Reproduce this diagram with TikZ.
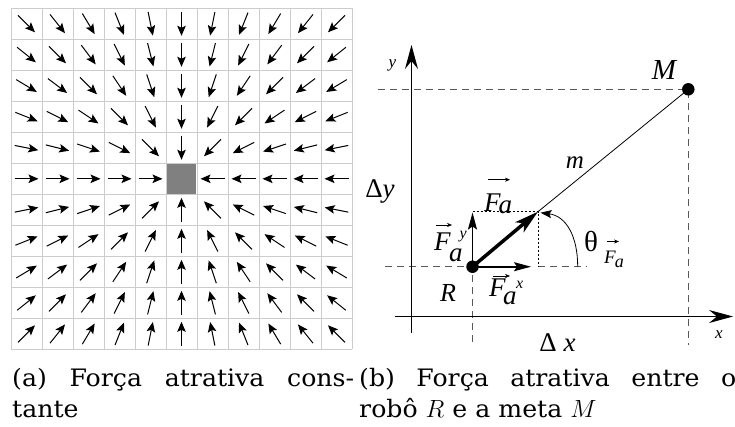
\documentclass[tikz,border=0pt]{standalone}
\usepackage{fontspec}
\setmainfont{Liberation Serif}
\newfontfamily\capfont[FakeStretch=1.05]{DejaVu Serif}
\usetikzlibrary{arrows.meta}
\newcommand\fsz[1]{\fontsize{#1}{#1}\selectfont}
% F with an a beside it and a superscript:
% #1 kern before a, #2 lowering of a, #3 kern before sup, #4 raise of sup, #5 sup
\newcommand\Fsub[5]{F\kern#1\raisebox{-#2}{a}\kern#3\raisebox{#4}{\fsz{16}#5}}
\begin{document}
\begin{tikzpicture}[x=1pt,y=-1pt,
  gridline/.style={draw=black!20,line width=0.9pt},
  fieldarrow/.style={line width=1pt,-{Stealth[length=10pt,width=8.5pt,inset=2pt]}},
  axisarrow/.style={line width=1pt,-{Stealth[length=24pt,width=13pt,inset=8pt]}},
  guide/.style={draw=black!65,line width=0.9pt,dash pattern=on 7pt off 5pt},
  dotline/.style={line width=0.7pt,dash pattern=on 2pt off 2pt},
  dotmark/.style={circle,fill=black,minimum size=12.5pt,inner sep=0pt},
  lab/.style={inner sep=0pt,font=\fsz{27}\itshape},
  vecarrow/.style={line width=0.5pt,-{Stealth[length=5pt,width=4pt]}},
  comparrow/.style={line width=1.8pt,-{Stealth[length=17pt,width=9pt,inset=3pt]}},
  bigarrow/.style={line width=3.5pt,-{Stealth[length=24pt,width=13pt,inset=6pt]}},
  captext/.style={inner sep=0pt,anchor=base west,font=\capfont\fsz{24}}]
\useasboundingbox (0,0) rectangle (735,426);
% ---------- (a) constant attractive field ----------
\foreach \i in {0,...,11}{
  \draw[gridline] (11+31*\i,8.3) -- (11+31*\i,349.3);
  \draw[gridline] (11,8.3+31*\i) -- (352,8.3+31*\i);
}
\node[fill=black!50,minimum size=29.5pt,inner sep=0pt] (goal) at (181.5,178.8) {};
\foreach \c in {0,...,10}{
  \foreach \r in {0,...,10}{
    \pgfmathtruncatemacro\isctr{(\c==5)&&(\r==5)}
    \ifnum\isctr=0
      \pgfmathsetmacro\fdx{5-\c}
      \pgfmathsetmacro\fdy{5-\r}
      \pgfmathsetmacro\vlen{sqrt(\fdx*\fdx+\fdy*\fdy)}
      \pgfmathsetmacro\ax{26.5+31*\c-12*\fdx/\vlen}
      \pgfmathsetmacro\ay{23.8+31*\r-12*\fdy/\vlen}
      \pgfmathsetmacro\bx{26.5+31*\c+12*\fdx/\vlen}
      \pgfmathsetmacro\by{23.8+31*\r+12*\fdy/\vlen}
      \draw[fieldarrow] (\ax,\ay) -- (\bx,\by);
    \fi
  }
}
% ---------- (b) force between robot R and goal M ----------
\coordinate (ybot) at (411.5,333);
\coordinate (ytop) at (411.5,45);
\coordinate (xleft) at (395,316.5);
\coordinate (xright) at (733,316.5);
\coordinate (Rpos) at (472.5,266.7);
\coordinate (Mpos) at (688.3,89.3);
\coordinate (P) at (538,211.7);
\coordinate (Py) at (472.5,211.7);
\coordinate (Pyt) at (472.5,212.5);
\coordinate (Px) at (538,266.7);
\coordinate (Pxt) at (531,266.7);
\coordinate (hMl) at (378,89.3);
\coordinate (vMb) at (688.3,345);
\coordinate (hRl) at (385,266.7);
\coordinate (hRr) at (587,266.7);
\coordinate (vRb) at (472.5,345);
\coordinate (T0) at (577.7,266.7);
\coordinate (T1) at (540.5,212.7);
% guides
\draw[guide] (hMl) -- (Mpos) -- (vMb);
\draw[guide] (hRl) -- (Rpos) -- (vRb);
\draw[guide] (Px) -- (hRr);
\draw[dotline] (Py) -- (P) -- (Px);
% axes
\draw[axisarrow] (ybot) -- (ytop);
\draw[axisarrow] (xleft) -- (xright);
% line m and vectors
\draw[line width=0.8pt] (P) -- (Mpos);
\draw[comparrow] (Rpos) -- (Pyt);
\draw[comparrow] (Rpos) -- (Pxt);
\draw[bigarrow] (Rpos) -- (P);
\draw[line width=0.8pt,-{Stealth[length=11pt,width=8pt,inset=2pt]}] (T0) .. controls (577.7,236) and (566,216) .. (T1);
\node[dotmark] (R) at (Rpos) {};
\node[dotmark] (M) at (Mpos) {};
% labels
\node[lab,font=\fsz{17}\itshape,anchor=base] (ylab) at (392.5,67) {y};
\node[lab,font=\fsz{17}\itshape,anchor=base] (xlab) at (719,338) {x};
\node[lab,font=\fsz{29}\itshape,anchor=base] (Mlab) at (664,79) {M};
\node[lab,font=\fsz{25}\itshape,anchor=base] (mlab) at (575,168) {m};
\node[lab,font=\fsz{26}\itshape,anchor=base] (Rlab) at (448,301) {R};
\node[lab,font=\fsz{27},anchor=base] (dylab) at (380,197) {Δ\textit{y}};
\node[lab,font=\fsz{27},anchor=base] (dxlab) at (557.5,351) {Δ \textit{x}};
\node[lab,font=\fsz{29},anchor=base] (thlab) at (591,251) {θ};
\node[lab,anchor=base west] (Fa) at (484,211.7) {\Fsub{-2pt}{1.5pt}{0pt}{0pt}{}};
\draw[vecarrow] ([xshift=4pt,yshift=32pt]Fa.base west) -- ++(22,0);
\node[lab,anchor=base west] (Fay) at (434,250) {\Fsub{-1.5pt}{11pt}{-3pt}{12pt}{y}};
\draw[vecarrow] ([xshift=2pt,yshift=25pt]Fay.base west) -- ++(16,0);
\node[lab,anchor=base west] (Fax) at (489,296) {\Fsub{-2.5pt}{8pt}{-0.5pt}{8pt}{x}};
\draw[vecarrow] ([xshift=4pt,yshift=20pt]Fax.base west) -- ++(17,0);
\node[lab,font=\fsz{19}\itshape,anchor=base west] (thsub) at (604,263.5) {F\kern-1pt\raisebox{-3.5pt}{\fsz{18}a}};
\draw[vecarrow] ([xshift=3pt,yshift=22pt]thsub.base west) -- ++(12,0);
% captions
\node[captext] (capa1) at (12,386) {\makebox[342pt][s]{(a) Força atrativa cons-}};
\node[captext] (capa2) at (12,417) {tante};
\node[captext] (capb1) at (359,386) {\makebox[377pt][s]{(b) Força atrativa entre o}};
\node[captext] (capb2) at (359,417) {robô $R$ e a meta $M$};
\end{tikzpicture}
\end{document}
